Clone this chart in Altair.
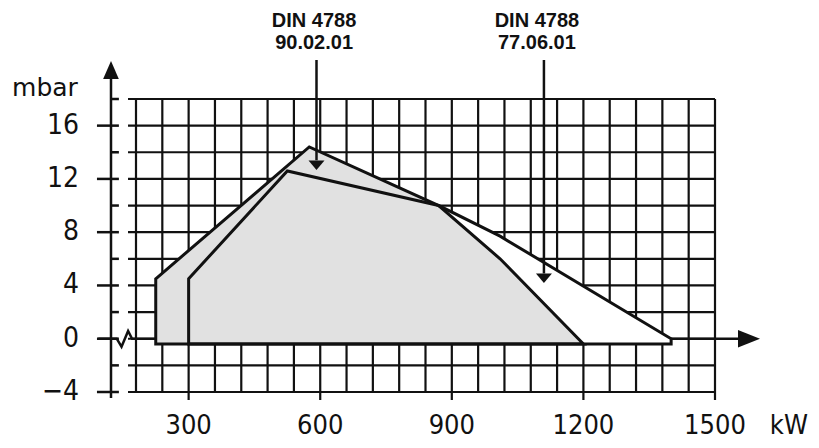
import altair as alt
import pandas as pd

# ---- grid / axis values ----
grid_x = [180, 240, 300, 360, 420, 480, 540, 600, 660, 720, 780, 840, 900,
          960, 1020, 1080, 1140, 1200, 1260, 1320, 1380, 1440, 1500]
grid_y = [-4, -2, 0, 2, 4, 6, 8, 10, 12, 14, 16, 18]
x_tick_values = [300, 600, 900, 1200, 1500]
x_tick_labels = ["300", "600", "900", "1200", "1500"]
y_tick_values = [-4, 0, 4, 8, 12, 16]
y_tick_labels = ["\u22124", "0", "4", "8", "12", "16"]
y_minor_values = [-2, 2, 6, 10, 14, 18]

# ---- test field outlines (kW, mbar) ----
din90_kw = [225, 575, 870, 1010, 1200]
din90_mbar = [4.5, 14.4, 10.0, 6.0, -0.4]
din77_kw = [300, 525, 870, 1010, 1400]
din77_mbar = [4.5, 12.6, 10.0, 7.7, 0.0]
base_mbar = -0.4

# axis break symbol on the 0 line (kW, mbar)
break_kw = [94, 136, 147, 162, 171, 225]
break_mbar = [0, 0, -0.6, 0.58, 0, 0]

# annotation labels and pointers
ann_lines1 = ["DIN 4788", "DIN 4788"]
ann_lines2 = ["90.02.01", "77.06.01"]
ann_label_kw = [586, 1094]
ann_arrow_kw = [591.5, 1110]
ann_arrow_tip_mbar = [13.03, 4.54]
ann_arrow_base_mbar = [13.4, 4.9]

XS = alt.Scale(domain=[180, 1500], nice=False, zero=False)
YS = alt.Scale(domain=[-4, 18], nice=False, zero=False)
BLACK = "#111111"
COND = "DejaVu Sans Condensed"
XLAB_Y = -6.56


def X(f):
    return alt.X(f, type="quantitative", scale=XS, axis=None)


def Y(f):
    return alt.Y(f, type="quantitative", scale=YS, axis=None)


# horizontal grid
hgrid = alt.Chart(pd.DataFrame({"y": grid_y, "x1": 161.8, "x2": 1500})).mark_rule(
    color=BLACK, strokeWidth=2.2).encode(x=X("x1"), x2="x2", y=Y("y"))

# vertical grid (labelled values extend below as ticks)
vg = pd.DataFrame({"x": grid_x})
vg["y1"] = [-4.6 if v in x_tick_values else -4 for v in grid_x]
vg["y2"] = 18
vgrid = alt.Chart(vg).mark_rule(color=BLACK, strokeWidth=2.2).encode(
    x=X("x"), y=Y("y1"), y2="y2")

# y axis line
yaxis = alt.Chart(pd.DataFrame({"x": [123], "y1": [-4.45], "y2": [19.9]})).mark_rule(
    color=BLACK, strokeWidth=2.5).encode(x=X("x"), y=Y("y1"), y2="y2")
ymajor = alt.Chart(pd.DataFrame({"y": y_tick_values, "x1": 91, "x2": 141})).mark_rule(
    color=BLACK, strokeWidth=2.5).encode(x=X("x1"), x2="x2", y=Y("y"))
yminor = alt.Chart(pd.DataFrame({"y": y_minor_values, "x1": 123, "x2": 141})).mark_rule(
    color=BLACK, strokeWidth=2.5).encode(x=X("x1"), x2="x2", y=Y("y"))

# x axis extension to the right and break symbol
xaxis_r = alt.Chart(pd.DataFrame({"x1": [1400], "x2": [1565], "y": [0]})).mark_rule(
    color=BLACK, strokeWidth=2.5).encode(x=X("x1"), x2="x2", y=Y("y"))
brk = alt.Chart(pd.DataFrame({"x": break_kw, "y": break_mbar, "o": list(range(len(break_kw)))})).mark_line(
    color=BLACK, strokeWidth=2.5, strokeJoin="miter").encode(x=X("x"), y=Y("y"), order="o:Q")

# axis arrowheads
yarrow = alt.Chart(pd.DataFrame({"x": [123], "y": [20.18]})).mark_point(
    shape="M0,-1L0.87,1L-0.87,1Z", filled=True, size=324, color=BLACK, opacity=1,
    strokeWidth=0).encode(x=X("x"), y=Y("y"))
xarrow = alt.Chart(pd.DataFrame({"x": [1577.5], "y": [0]})).mark_point(
    shape="M1,0L-1,-0.8L-1,0.8Z", filled=True, size=484, color=BLACK, opacity=1,
    strokeWidth=0).encode(x=X("x"), y=Y("y"))

# test fields
d90 = pd.DataFrame({"x": din90_kw, "y": din90_mbar, "b": base_mbar})
d77 = pd.DataFrame({"x": din77_kw, "y": din77_mbar, "b": base_mbar})
f77 = alt.Chart(d77).mark_area(fill="white", strokeWidth=0).encode(
    x=X("x"), y=Y("y"), y2="b")
f90 = alt.Chart(d90).mark_area(fill="#e1e1e1", stroke=BLACK, strokeWidth=3,
                               strokeJoin="miter").encode(x=X("x"), y=Y("y"), y2="b")
s77 = alt.Chart(d77).mark_area(fill="white", fillOpacity=0, stroke=BLACK, strokeWidth=3,
                               strokeJoin="miter").encode(x=X("x"), y=Y("y"), y2="b")

# annotation pointers
ann = pd.DataFrame({"x": ann_arrow_kw, "top": 20.93, "base": ann_arrow_base_mbar,
                    "tip": ann_arrow_tip_mbar, "l1": ann_lines1, "l2": ann_lines2,
                    "lx": ann_label_kw, "y1": 23.86, "y2": 22.2})
ann_rule = alt.Chart(ann).mark_rule(color=BLACK, strokeWidth=2.5).encode(
    x=X("x"), y=Y("top"), y2="base")
ann_head = alt.Chart(ann).mark_point(
    shape="M0,0.6L-1,-0.6L1,-0.6Z", filled=True, size=256, color=BLACK, opacity=1,
    strokeWidth=0).encode(x=X("x"), y=Y("tip"))
ann_t1 = alt.Chart(ann).mark_text(font="Liberation Sans", fontSize=20, fontWeight="bold",
                                  color=BLACK, align="center", baseline="middle").encode(
    x=X("lx"), y=Y("y1"), text="l1")
ann_t2 = alt.Chart(ann).mark_text(font="Liberation Sans", fontSize=20, fontWeight="bold",
                                  color=BLACK, align="center", baseline="middle").encode(
    x=X("lx"), y=Y("y2"), text="l2")

# tick labels
xlab = alt.Chart(pd.DataFrame({"x": x_tick_values, "t": x_tick_labels, "y": XLAB_Y})).mark_text(
    font=COND, fontSize=27, color=BLACK, align="center", baseline="middle").encode(
    x=X("x"), y=Y("y"), text="t")
ylab = alt.Chart(pd.DataFrame({"y": y_tick_values, "t": y_tick_labels, "x": 50})).mark_text(
    font=COND, fontSize=28, color=BLACK, align="right", baseline="middle").encode(
    x=X("x"), y=Y("y"), text="t")

units_kw = alt.Chart(pd.DataFrame({"x": [1625], "y": [XLAB_Y], "t": ["kW"]})).mark_text(
    font=COND, fontSize=27, color=BLACK, align="left", baseline="middle").encode(
    x=X("x"), y=Y("y"), text="t")
units_mbar = alt.Chart(pd.DataFrame({"x": [-27.5], "y": [18.82], "t": ["mbar"]})).mark_text(
    font="DejaVu Sans", fontSize=25, color=BLACK, align="center", baseline="middle").encode(
    x=X("x"), y=Y("y"), text="t")

chart = alt.layer(
    hgrid, vgrid, yaxis, ymajor, yminor, xaxis_r, brk, yarrow, xarrow,
    f77, f90, s77, ann_rule, ann_head, ann_t1, ann_t2, xlab, ylab, units_kw, units_mbar
).properties(
    width=579, height=293,
    padding={"left": 128, "top": 91, "right": 96, "bottom": 48},
    autosize=alt.AutoSizeParams(type="none"),
    background="white",
).configure_view(stroke=None)

chart.save("out.html", embed_options={"renderer": "svg", "actions": False})
